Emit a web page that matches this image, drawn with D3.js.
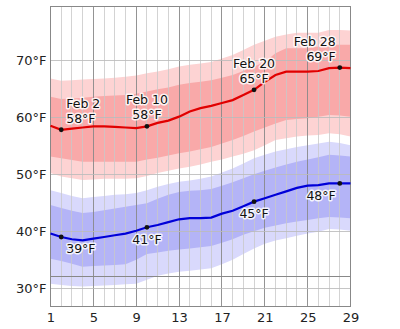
<!DOCTYPE html>
<html><head><meta charset="utf-8">
<script src="https://cdn.jsdelivr.net/npm/d3@7"></script>
<style>
html,body{margin:0;padding:0;background:#fff;}
svg{display:block;font-family:"DejaVu Sans",sans-serif;}
</style></head>
<body><svg id="c" width="400" height="329"></svg>
<script>
const days = d3.range(1, 30);
const xTicks = [1,5,9,13,17,21,25,29];
const yTicks = [30,40,50,60,70];
const freezing = 32;

const highAvg = [58.5,57.8,58.0,58.2,58.4,58.4,58.3,58.2,58.1,58.4,59.0,59.4,60.1,61.0,61.6,62.0,62.5,63.0,63.9,64.8,66.2,67.4,68.0,68.0,68.0,68.1,68.6,68.7,68.6];
const highP90 = [66.8,66.4,66.5,66.6,66.7,66.8,66.9,67.1,67.3,67.7,68.0,68.4,68.9,69.2,69.4,69.7,70.3,70.9,71.8,72.7,73.4,74.1,74.5,74.8,74.8,74.8,75.3,75.3,75.2];
const highP75 = [63.6,63.2,63.3,63.4,63.6,63.7,63.8,63.9,64.1,64.5,64.9,65.2,65.7,66.0,66.2,66.5,66.9,67.4,68.1,68.9,69.7,71.2,72.1,72.1,72.1,72.4,72.7,72.7,72.7];
const highP25 = [53.1,52.8,52.5,52.2,52.2,52.2,52.2,52.2,52.2,52.6,52.9,53.3,53.7,54.0,54.4,54.8,55.4,56.0,56.7,57.5,58.2,58.9,59.5,59.7,59.8,60.1,60.4,60.3,60.1];
const highP10 = [50.2,49.6,49.3,49.0,49.1,49.2,49.2,49.2,49.3,49.7,50.2,50.6,51.0,51.3,51.7,52.2,52.6,53.1,53.6,54.2,55.1,56.0,56.3,56.6,56.8,56.9,57.2,57.0,56.6];

const lowAvg = [39.6,39.0,38.6,38.4,38.7,39.0,39.3,39.6,40.1,40.7,41.1,41.6,42.1,42.3,42.3,42.4,43.1,43.6,44.4,45.2,45.8,46.4,47.0,47.6,48.0,48.1,48.4,48.4,48.4];
const lowP90 = [47.2,46.7,46.2,45.8,46.0,46.2,46.4,46.5,46.7,47.2,47.8,48.3,48.7,48.9,49.2,49.6,50.3,51.0,51.9,52.8,53.4,54.0,54.4,54.8,55.1,55.4,55.7,55.5,55.1];
const lowP75 = [44.6,44.1,43.6,43.2,43.4,43.7,44.0,44.3,44.6,44.9,45.7,46.4,46.9,47.1,47.2,47.4,48.0,48.6,49.3,50.0,50.6,51.2,51.7,52.2,52.6,53.0,53.4,53.3,53.1];
const lowP25 = [35.2,34.8,34.3,33.8,33.9,34.0,34.1,34.2,35.0,36.0,36.3,36.6,36.8,37.0,37.2,37.4,38.0,38.6,39.4,40.0,40.6,41.0,41.4,41.7,42.0,42.3,42.5,42.4,42.3];
const lowP10 = [30.8,30.6,30.4,30.3,30.4,30.5,30.6,30.7,30.8,31.5,32.2,32.6,32.9,33.1,33.3,33.5,34.2,35.0,36.0,37.0,37.8,38.4,38.8,39.2,39.6,39.9,40.4,40.3,40.1];

const labelDays = [2,10,20,28];
const labelNames = ["Feb 2","Feb 10","Feb 20","Feb 28"];
const labelAlign = ["start","middle","middle","end"];

const svg = d3.select("#c");
const x = d3.scaleLinear().domain([1,29]).range([50.5,350.5]);
const y = d3.scaleLinear().domain([26.9,79.5]).range([306,6]);

const area = (lo, hi) => d3.area().x((d,i)=>x(days[i])).y0((d,i)=>y(lo[i])).y1((d,i)=>y(hi[i]))(days);
const line = (v) => d3.line().x((d,i)=>x(days[i])).y((d,i)=>y(v[i]))(days);

const g = svg.append("g");
g.append("path").attr("d", area(highP10, highP90)).attr("fill", "#fdd3d3");
g.append("path").attr("d", area(highP25, highP75)).attr("fill", "#f9a9a9");
g.append("path").attr("d", area(lowP10, lowP90)).attr("fill", "#d9d9fc");
g.append("path").attr("d", area(lowP25, lowP75)).attr("fill", "#b4b4f7");

// grid
days.forEach(d => {
  const major = (d-1)%4===0;
  g.append("line").attr("x1",x(d)).attr("x2",x(d)).attr("y1",y.range()[1]).attr("y2",y.range()[0])
    .attr("stroke", major? "#888":"#c8c8c8").attr("stroke-opacity", major?0.9:0.8).attr("stroke-width",1)
    .attr("shape-rendering","crispEdges");
});
yTicks.forEach(t => {
  g.append("line").attr("x1",x(1)).attr("x2",x(29)).attr("y1",y(t)).attr("y2",y(t))
   .attr("stroke","#bbb").attr("stroke-opacity",0.85).attr("shape-rendering","crispEdges");
});
g.append("line").attr("x1",x(1)).attr("x2",x(29)).attr("y1",y(freezing)).attr("y2",y(freezing))
 .attr("stroke","#888").attr("shape-rendering","crispEdges");
g.append("rect").attr("x",x(1)).attr("y",y.range()[1]).attr("width",x(29)-x(1)).attr("height",y.range()[0]-y.range()[1])
 .attr("fill","none").attr("stroke","#888").attr("shape-rendering","crispEdges");

// lines
g.append("path").attr("d", line(highAvg)).attr("fill","none").attr("stroke","#e00000").attr("stroke-width",2.2);
g.append("path").attr("d", line(lowAvg)).attr("fill","none").attr("stroke","#0000d8").attr("stroke-width",2.2);

// axes
const xa = svg.append("g").attr("transform",`translate(0,${y.range()[0]})`)
  .call(d3.axisBottom(x).tickValues(xTicks).tickSize(0).tickPadding(7).tickFormat(d3.format("d")));
const ya = svg.append("g").attr("transform",`translate(${x(1)},0)`)
  .call(d3.axisLeft(y).tickValues(yTicks).tickSize(0).tickPadding(4).tickFormat(d=>d+"°F"));
[xa,ya].forEach(a=>{a.select(".domain").remove(); a.selectAll("text").attr("font-size",13).attr("font-family","DejaVu Sans").attr("fill","#222");});

// dots & labels
labelDays.forEach((d,k) => {
  const i = d-1;
  const anchor = labelAlign[k];
  const dx = anchor==="start"?5:(anchor==="end"?-4:0);
  [[highAvg,true],[lowAvg,false]].forEach(([arr,isHigh]) => {
    const cx = x(d), cy = y(arr[i]);
    g.append("circle").attr("cx",cx).attr("cy",cy).attr("r",2.4).attr("fill","#111");
    const t = g.append("text").attr("text-anchor",anchor).attr("font-size",12.5)
      .attr("fill","#111").attr("stroke","#fff").attr("stroke-width",3).attr("stroke-opacity",0.85)
      .attr("stroke-linejoin","round").attr("paint-order","stroke");
    if (isHigh) {
      t.append("tspan").attr("x",cx+dx).attr("y",cy-22).text(labelNames[k]);
      t.append("tspan").attr("x",cx+dx).attr("y",cy-7).text(Math.round(arr[i])+"°F");
    } else {
      t.append("tspan").attr("x",cx+dx).attr("y",cy+16.5).text(Math.round(arr[i])+"°F");
    }
  });
});
</script></body></html>
